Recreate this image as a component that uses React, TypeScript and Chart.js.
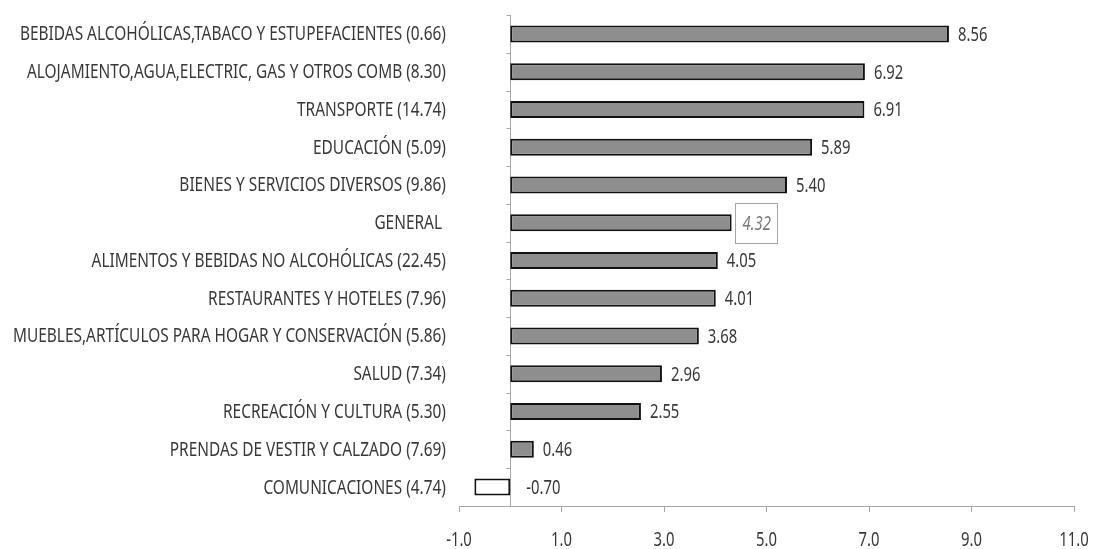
import React, { useEffect, useRef } from "react";
import { Chart, registerables } from "chart.js";

Chart.register(...registerables);

const categories = [
  "BEBIDAS ALCOHÓLICAS,TABACO Y ESTUPEFACIENTES (0.66)",
  "ALOJAMIENTO,AGUA,ELECTRIC, GAS Y OTROS COMB (8.30)",
  "TRANSPORTE (14.74)",
  "EDUCACIÓN (5.09)",
  "BIENES Y SERVICIOS DIVERSOS (9.86)",
  "GENERAL ",
  "ALIMENTOS Y BEBIDAS NO ALCOHÓLICAS (22.45)",
  "RESTAURANTES Y HOTELES (7.96)",
  "MUEBLES,ARTÍCULOS PARA HOGAR Y CONSERVACIÓN (5.86)",
  "SALUD (7.34)",
  "RECREACIÓN Y CULTURA (5.30)",
  "PRENDAS DE VESTIR Y CALZADO (7.69)",
  "COMUNICACIONES (4.74)",
];

const values = [8.56, 6.92, 6.91, 5.89, 5.4, 4.32, 4.05, 4.01, 3.68, 2.96, 2.55, 0.46, -0.7];

const xTicks = [-1, 1, 3, 5, 7, 9, 11];

const highlightLabel = "GENERAL";

const FONT = "'Noto Sans', 'Open Sans', sans-serif";
const TEXT_COLOR = "#383838";

function drawCondensed(ctx: any, text: string, x: number, y: number, align: string, sx: number) {
  ctx.save();
  ctx.translate(x, y);
  ctx.scale(sx, 1);
  ctx.textAlign = align;
  ctx.textBaseline = "middle";
  ctx.fillText(text, 0, 0);
  ctx.restore();
}

const zeroLinePlugin = {
  id: "zeroLine",
  beforeDatasetsDraw(chart: any) {
    const { ctx, chartArea } = chart;
    const xs = chart.scales.x;
    const x0 = Math.round(xs.getPixelForValue(0)) + 0.5;
    ctx.save();
    ctx.strokeStyle = "#a6a6a6";
    ctx.lineWidth = 1;
    ctx.beginPath();
    ctx.moveTo(x0, chartArea.top);
    ctx.lineTo(x0, chartArea.bottom);
    const n = categories.length;
    const band = (chartArea.bottom - chartArea.top) / n;
    for (let i = 0; i < n; i++) {
      const y = Math.round(chartArea.top + i * band) + 0.5;
      ctx.moveTo(x0 - 4, y);
      ctx.lineTo(x0, y);
    }
    ctx.stroke();
    ctx.restore();
  },
};

const textPlugin = {
  id: "condensedText",
  afterDraw(chart: any) {
    const { ctx, chartArea } = chart;
    const xs = chart.scales.x;
    const ys = chart.scales.y;
    ctx.save();
    ctx.fillStyle = TEXT_COLOR;

    // category labels
    ctx.font = `19px ${FONT}`;
    const sxLab = 426 / ctx.measureText(categories[0]).width;
    categories.forEach((lab, i) => {
      const y = ys.getPixelForTick(i) + 1;
      drawCondensed(ctx, lab, chartArea.left - 13, y, "right", sxLab);
    });

    // x tick labels
    ctx.font = `19px ${FONT}`;
    xTicks.forEach((v) => {
      drawCondensed(ctx, v.toFixed(1), xs.getPixelForValue(v), chartArea.bottom + 35, "center", 0.78);
    });

    // value labels
    const meta = chart.getDatasetMeta(0);
    const x0 = xs.getPixelForValue(0);
    meta.data.forEach((el: any, i: number) => {
      const v = values[i];
      const txt = v.toFixed(2);
      const y = el.y + 1.5;
      if (categories[i].trim() === highlightLabel) {
        ctx.font = `italic 19px ${FONT}`;
        const w = ctx.measureText(txt).width * 0.78;
        const bx = Math.round(el.x + 3) + 0.5;
        ctx.strokeStyle = "#a6a6a6";
        ctx.lineWidth = 1;
        ctx.strokeRect(bx, Math.round(el.y - 20) + 0.5, Math.round(w + 14), 40);
        ctx.fillStyle = "#7a7a7a";
        drawCondensed(ctx, txt, bx + 7, y, "left", 0.78);
        ctx.fillStyle = TEXT_COLOR;
      } else {
        ctx.font = `19px ${FONT}`;
        const x = v >= 0 ? el.x + 9 : x0 + 16;
        drawCondensed(ctx, txt, x, y, "left", 0.78);
      }
    });
    ctx.restore();
  },
};

export default function App() {
  const ref = useRef<HTMLCanvasElement | null>(null);
  useEffect(() => {
    if (!ref.current) return;
    const chart = new Chart(ref.current, {
      type: "bar",
      data: {
        labels: categories,
        datasets: [
          {
            data: values,
            backgroundColor: values.map((v) => (v < 0 ? "#ffffff" : "#8e8e8e")),
            borderColor: "#111111",
            borderWidth: 2,
            borderSkipped: false,
            barPercentage: 0.45,
            categoryPercentage: 1,
          },
        ],
      },
      options: {
        indexAxis: "y",
        animation: false,
        responsive: false,
        maintainAspectRatio: false,
        layout: { padding: { top: 15, right: 19, left: 0, bottom: 0 } },
        plugins: { legend: { display: false }, tooltip: { enabled: false }, title: { display: false } },
        scales: {
          x: {
            type: "linear",
            min: -1,
            max: 11,
            afterBuildTicks: (scale: any) => {
              scale.ticks = xTicks.map((v) => ({ value: v }));
            },
            afterFit: (scale: any) => {
              scale.height = 43;
            },
            ticks: { display: false },
            grid: { drawOnChartArea: false, drawTicks: true, tickLength: 6, color: "#a6a6a6" },
            border: { display: true, color: "#a6a6a6" },
          },
          y: {
            type: "category",
            afterFit: (scale: any) => {
              scale.width = 459;
            },
            ticks: { display: false },
            grid: { display: false },
            border: { display: false },
          },
        },
      },
      plugins: [zeroLinePlugin, textPlugin],
    });
    return () => chart.destroy();
  }, []);
  return (
    <div style={{ position: "fixed", left: 0, top: 0, width: 1093, height: 549, background: "#fff" }}>
      <canvas ref={ref} width={1093} height={549} style={{ display: "block" }} />
    </div>
  );
}
